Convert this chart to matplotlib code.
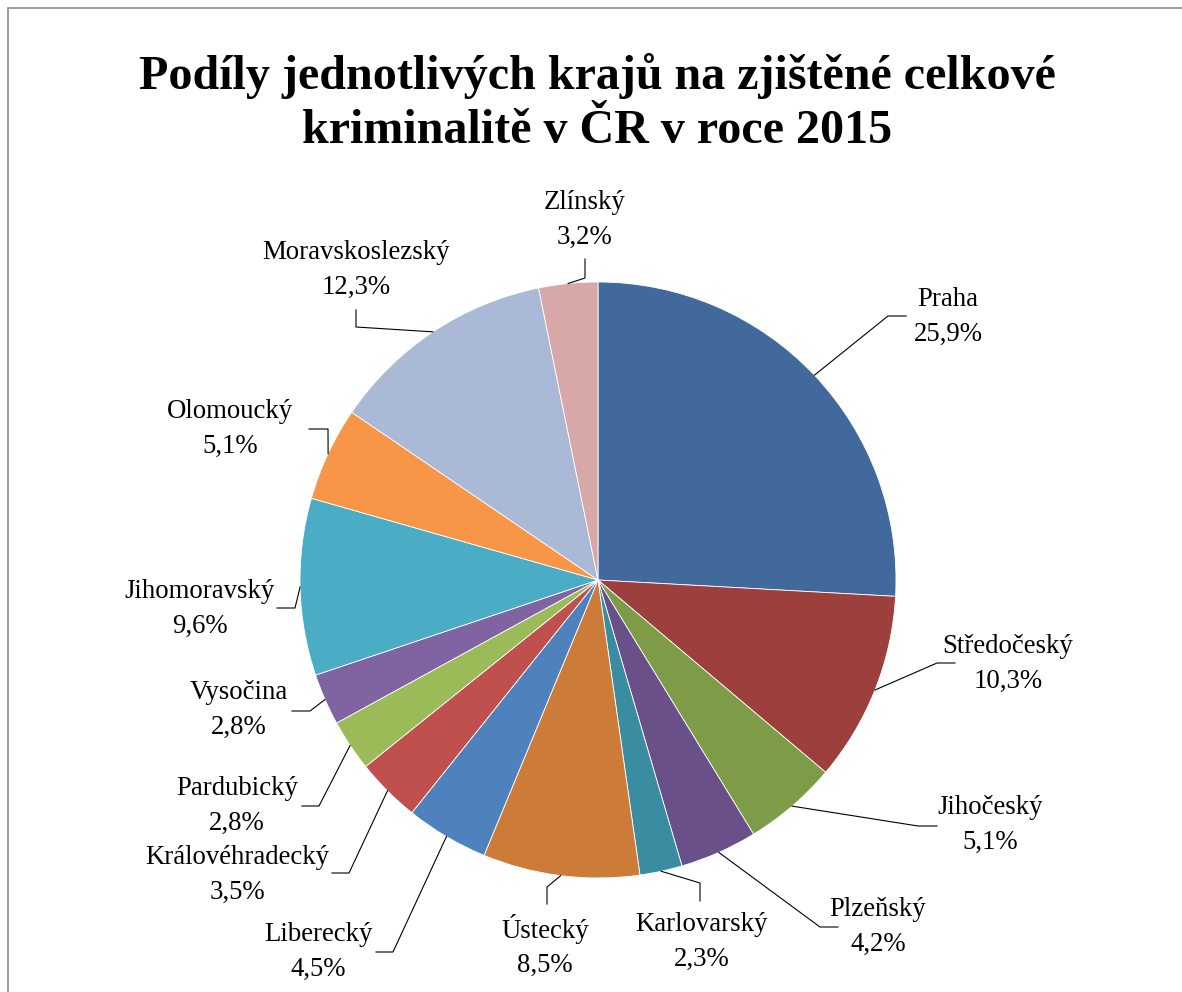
import matplotlib
matplotlib.use("Agg")
import numpy as np
import matplotlib.pyplot as plt
from matplotlib.patches import Rectangle

plt.rcParams['font.family'] = ['Liberation Serif', 'DejaVu Serif']

# data (share of regions, %)
regions = ['Praha', 'Středočeský', 'Jihočeský', 'Plzeňský', 'Karlovarský',
           'Ústecký', 'Liberecký', 'Královéhradecký', 'Pardubický', 'Vysočina',
           'Jihomoravský', 'Olomoucký', 'Moravskoslezský', 'Zlínský']
shares = [25.9, 10.3, 5.1, 4.2, 2.3, 8.5, 4.5, 3.5, 2.8, 2.8, 9.6, 5.1, 12.3, 3.2]
colors = ['#41699b', '#9c3f3d', '#7e9b48', '#6a5088', '#3a8ca1', '#cc7b38',
          '#4f81bd', '#c0504d', '#9bbb59', '#8064a2', '#4bacc6', '#f79646',
          '#aab9d6', '#d8a8a8']
title = 'Podíly jednotlivých krajů na zjištěné celkové\nkriminalitě v ČR v roce 2015'

# layout in image pixels: label centre, leader elbow, leader end
W, H = 1182, 992
CX, CY, R = 598, 580, 298
label_pos = [(948, 317), (1008, 664), (990, 825), (878, 927), (702, 942),
             (545, 946), (318, 952), (237, 875), (237, 806), (239, 710),
             (200, 609), (230, 429), (356, 270), (585, 220)]
elbows = [(888, 316), (937, 663), (918, 826), (820, 927), (700, 883),
          (547, 887), (393, 952), (349, 873), (319, 806), (310, 711),
          (295, 608), (328, 429), (356, 327), (585, 278)]
ends = [(906, 316), (955, 663), (937, 826), (838, 927), (700, 901),
        (547, 904), (376, 952), (332, 873), (302, 806), (292, 711),
        (277, 608), (309, 429), (356, 310), (585, 259)]


def px(x, y):
    return (x - CX) / R, (CY - y) / R


fig = plt.figure(figsize=(W / 100, H / 100), dpi=100)
ax = fig.add_axes([0, 0, 1, 1])

wedges, _ = ax.pie(shares, colors=colors, startangle=90, counterclock=False,
                   radius=1, wedgeprops=dict(edgecolor='white', linewidth=0.6))

for w, name, val, lp, el, en in zip(wedges, regions, shares, label_pos, elbows, ends):
    ang = np.deg2rad((w.theta1 + w.theta2) / 2)
    sx, sy = np.cos(ang), np.sin(ang)
    ex, ey = px(*el)
    nx, ny = px(*en)
    ax.plot([sx, ex, nx], [sy, ey, ny], color='black', lw=0.8)
    tx, ty = px(*lp)
    ax.text(tx, ty, f'{name}\n{val:.1f}%'.replace('.', ','), ha='center',
            va='center', fontsize=19.3, linespacing=1.48)

ax.set_xlim(px(0, 0)[0], px(W, 0)[0])
ax.set_ylim(px(0, H)[1], px(0, 0)[1])
ax.set_aspect('equal')
ax.axis('off')

fig.text(597 / W, 1 - 103 / H, title, ha='center', va='center', fontsize=34.6,
         fontweight='bold', linespacing=1.27)

fig.patches.append(Rectangle((7.5 / W, -0.1), 2, 1.1 - 7.5 / H, transform=fig.transFigure,
                             fill=False, edgecolor='#8c8c8c', lw=1.2))

fig.savefig('out.png', dpi=100)
